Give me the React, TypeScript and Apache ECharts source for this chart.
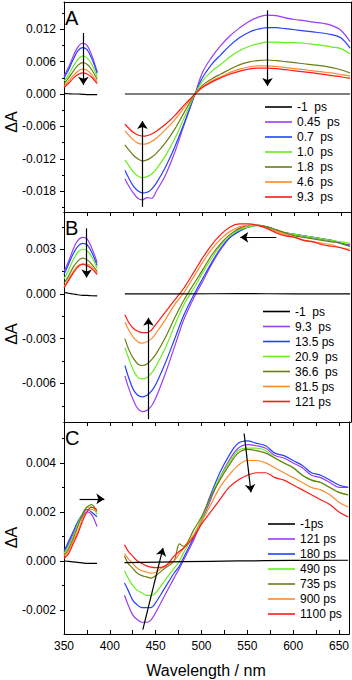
import React, { useEffect, useRef } from 'react';
import * as echarts from 'echarts';

// ---------- wavelength grids (nm) ----------
const WL_UV = [350, 355, 360, 365, 370, 375, 380, 386];
const WL_VIS = [416, 420, 425, 430, 435, 440, 445, 450, 460, 470, 480, 492, 500, 510, 520, 530, 540, 550, 560, 570, 580, 590, 600, 610, 620, 630, 640, 650, 660];
const WL_VIS_C = [416, 420, 425, 430, 435, 440, 445, 450, 460, 470, 476, 480, 492, 500, 510, 520, 530, 540, 550, 560, 570, 580, 590, 600, 610, 620, 630, 640, 650, 660];
const BLACK_WL_VIS = [416, 480, 540, 600, 660];

// ---------- legend labels ----------
const LABELS_A = ['-1  ps', '0.45  ps', '0.7  ps', '1.0  ps', '1.8  ps', '4.6  ps', '9.3  ps'];
const LABELS_B = ['-1  ps', '9.3  ps', '13.5 ps', '20.9  ps', '36.6  ps', '81.5 ps', '121 ps'];
const LABELS_C = ['-1ps', '121 ps', '180 ps', '490 ps', '735 ps', '900 ps', '1100 ps'];

const COLORS = ['#000000', '#9b3cf6', '#2442ff', '#66ee1e', '#6b7d14', '#ff8a2a', '#ff1a1a'];

// ---------- panel A ----------
const A_UV_BLACK = [0.0001, 0.00005, 0, 0, -0.00005, -0.0001, -0.0001, -0.0001];
const A_UV_PURPLE = [0.0033, 0.0050, 0.0070, 0.0087, 0.0094, 0.0090, 0.0072, 0.0041];
const A_UV_BLUE = [0.0030, 0.0045, 0.0064, 0.0080, 0.0086, 0.0082, 0.0066, 0.0038];
const A_UV_GREEN = [0.0024, 0.0036, 0.0051, 0.0064, 0.0070, 0.0067, 0.0055, 0.0032];
const A_UV_OLIVE = [0.0019, 0.0030, 0.0042, 0.0053, 0.0058, 0.0055, 0.0045, 0.0027];
const A_UV_ORANGE = [0.0015, 0.0024, 0.0034, 0.0042, 0.0046, 0.0044, 0.0036, 0.0022];
const A_UV_RED = [0.0012, 0.0020, 0.0029, 0.0036, 0.0039, 0.0037, 0.0031, 0.0019];

const A_VIS_BLACK = [0, 0, 0, 0, 0];
const A_VIS_PURPLE = [-0.0157, -0.0170, -0.0183, -0.0193, -0.0196, -0.0192, -0.0193, -0.0180, -0.0150, -0.0108, -0.0058, 0, 0.0040, 0.0068, 0.0090, 0.0108, 0.0122, 0.0134, 0.0142, 0.0146, 0.0145, 0.0141, 0.0138, 0.0136, 0.0133, 0.0131, 0.0127, 0.0118, 0.0097];
const A_VIS_BLUE = [-0.0141, -0.0155, -0.0170, -0.0179, -0.0183, -0.0182, -0.0176, -0.0165, -0.0135, -0.0098, -0.0055, 0, 0.0030, 0.0055, 0.0073, 0.0090, 0.0104, 0.0114, 0.0120, 0.0123, 0.0123, 0.0121, 0.0119, 0.0117, 0.0115, 0.0113, 0.0110, 0.0104, 0.0085];
const A_VIS_GREEN = [-0.0122, -0.0132, -0.0144, -0.0152, -0.0155, -0.0153, -0.0148, -0.0139, -0.0114, -0.0083, -0.0045, 0, 0.0024, 0.0042, 0.0055, 0.0069, 0.0080, 0.0088, 0.0093, 0.0096, 0.0096, 0.0095, 0.0095, 0.0094, 0.0092, 0.0090, 0.0087, 0.0084, 0.0074];
const A_VIS_OLIVE = [-0.0094, -0.0103, -0.0113, -0.0120, -0.0124, -0.0122, -0.0117, -0.0110, -0.0090, -0.0065, -0.0035, 0, 0.0016, 0.0028, 0.0037, 0.0046, 0.0054, 0.0059, 0.0062, 0.0063, 0.0062, 0.0060, 0.0058, 0.0056, 0.0054, 0.0052, 0.0049, 0.0045, 0.0039];
const A_VIS_ORANGE = [-0.0068, -0.0076, -0.0085, -0.0091, -0.0093, -0.0092, -0.0088, -0.0082, -0.0066, -0.0048, -0.0026, 0, 0.0013, 0.0024, 0.0032, 0.0040, 0.0046, 0.0050, 0.0052, 0.0052, 0.0051, 0.0049, 0.0047, 0.0045, 0.0043, 0.0041, 0.0039, 0.0036, 0.0033];
const A_VIS_RED = [-0.0056, -0.0063, -0.0071, -0.0076, -0.0078, -0.0077, -0.0074, -0.0069, -0.0056, -0.0040, -0.0021, 0, 0.0012, 0.0022, 0.0030, 0.0037, 0.0042, 0.0046, 0.0048, 0.0048, 0.0047, 0.0045, 0.0043, 0.0041, 0.0039, 0.0037, 0.0034, 0.0032, 0.0029];

// ---------- panel B ----------
const B_UV_BLACK = [0.0001, 0.00005, 0, -0.00005, -0.0001, -0.0001, -0.00012, -0.00013];
const B_UV_PURPLE = [0.0015, 0.0022, 0.0030, 0.0036, 0.0038, 0.0037, 0.0031, 0.0021];
const B_UV_BLUE = [0.0013, 0.0020, 0.0027, 0.0032, 0.0034, 0.0033, 0.0028, 0.0019];
const B_UV_GREEN = [0.0010, 0.0016, 0.0023, 0.0028, 0.0030, 0.0029, 0.0025, 0.0017];
const B_UV_OLIVE = [0.0007, 0.0012, 0.0018, 0.0022, 0.0024, 0.0023, 0.0020, 0.0015];
const B_UV_ORANGE = [0.0005, 0.0010, 0.0015, 0.0019, 0.0020, 0.0020, 0.0018, 0.0014];
const B_UV_RED = [0.0004, 0.0009, 0.0014, 0.0018, 0.0020, 0.0019, 0.0017, 0.0013];

const B_VIS_BLACK = [0, 0, 0.00003, 0, 0];
const B_VIS_PURPLE = [-0.0055, -0.0063, -0.0071, -0.0077, -0.0079, -0.0078, -0.0075, -0.0069, -0.0053, -0.0035, -0.0017, -0.0001, 0.0008, 0.0020, 0.0030, 0.0038, 0.0043, 0.0045, 0.0046, 0.0045, 0.0043, 0.0041, 0.0040, 0.0039, 0.0038, 0.0037, 0.0036, 0.0034, 0.0033];
const B_VIS_BLUE = [-0.0048, -0.0056, -0.0064, -0.0068, -0.0069, -0.0068, -0.0065, -0.0060, -0.0046, -0.0030, -0.0014, 0.0001, 0.0010, 0.0021, 0.0031, 0.0038, 0.0042, 0.0045, 0.0046, 0.0045, 0.0043, 0.0041, 0.0040, 0.0039, 0.0038, 0.0037, 0.0036, 0.0034, 0.0032];
const B_VIS_GREEN = [-0.0036, -0.0043, -0.0051, -0.0056, -0.0057, -0.0056, -0.0053, -0.0048, -0.0036, -0.0021, -0.0007, 0.0005, 0.0014, 0.0024, 0.0033, 0.0039, 0.0043, 0.0045, 0.0046, 0.0045, 0.0043, 0.0041, 0.0040, 0.0039, 0.0038, 0.0037, 0.0036, 0.0035, 0.0034];
const B_VIS_OLIVE = [-0.0030, -0.0037, -0.0043, -0.0047, -0.0048, -0.0047, -0.0044, -0.0040, -0.0029, -0.0016, -0.0004, 0.0008, 0.0016, 0.0026, 0.0034, 0.0040, 0.0044, 0.0046, 0.0046, 0.0045, 0.0043, 0.0041, 0.0039, 0.0038, 0.0037, 0.0036, 0.0035, 0.0034, 0.0032];
const B_VIS_ORANGE = [-0.0019, -0.0024, -0.0029, -0.0032, -0.0033, -0.0032, -0.0030, -0.0026, -0.0017, -0.0007, 0.0001, 0.0013, 0.0021, 0.0030, 0.0037, 0.0042, 0.0045, 0.0046, 0.0046, 0.0044, 0.0042, 0.0040, 0.0038, 0.0036, 0.0035, 0.0034, 0.0033, 0.0031, 0.0030];
const B_VIS_RED = [-0.0014, -0.0019, -0.0023, -0.0025, -0.0026, -0.0026, -0.0024, -0.0020, -0.0012, -0.0004, 0.0004, 0.0016, 0.0024, 0.0033, 0.0040, 0.0045, 0.0047, 0.0047, 0.0046, 0.0044, 0.0041, 0.0039, 0.0038, 0.0036, 0.0035, 0.0033, 0.0032, 0.0031, 0.0029];

// ---------- panel C ----------
const C_UV_BLACK = [0, -0.00002, -0.00004, -0.00006, -0.00008, -0.0001, -0.0001, -0.0001];
const C_UV_PURPLE = [0.0003, 0.0007, 0.0011, 0.0015, 0.0018, 0.0020, 0.0019, 0.0014];
const C_UV_BLUE = [0.0004, 0.0008, 0.0012, 0.0016, 0.0019, 0.0021, 0.0020, 0.0018];
const C_UV_GREEN = [0.0003, 0.0006, 0.0010, 0.0015, 0.0019, 0.0022, 0.0022, 0.0019];
const C_UV_OLIVE = [0.0002, 0.0005, 0.0009, 0.0014, 0.0019, 0.0022, 0.0023, 0.0020];
const C_UV_ORANGE = [0.0002, 0.0004, 0.0008, 0.0012, 0.0017, 0.0020, 0.0021, 0.0020];
const C_UV_RED = [0.0001, 0.0003, 0.0007, 0.0011, 0.0016, 0.0020, 0.0022, 0.0021];

const C_VIS_BLACK = [-0.00007, -0.00003, 0, 0.00002, 0.00003];
const C_VIS_PURPLE = [-0.0014, -0.0018, -0.0022, -0.0024, -0.0025, -0.0025, -0.0024, -0.0021, -0.0014, -0.0007, -0.0003, 0.0000, 0.0009, 0.0016, 0.0025, 0.0034, 0.0041, 0.0046, 0.00475, 0.0047, 0.0046, 0.0043, 0.0042, 0.0040, 0.0038, 0.0035, 0.0034, 0.0032, 0.0030, 0.0030];
const C_VIS_BLUE = [-0.0009, -0.0012, -0.0016, -0.0018, -0.0019, -0.0019, -0.0019, -0.0017, -0.0011, -0.0005, -0.0002, 0.0001, 0.0010, 0.0017, 0.0027, 0.0036, 0.0043, 0.0048, 0.0049, 0.0048, 0.0047, 0.0044, 0.0043, 0.0041, 0.0039, 0.0036, 0.0035, 0.0033, 0.0031, 0.0030];
const C_VIS_GREEN = [-0.0004, -0.0007, -0.0010, -0.0012, -0.0013, -0.0014, -0.0014, -0.0013, -0.0008, -0.0003, 0.0000, 0.0003, 0.0011, 0.0017, 0.0026, 0.0034, 0.0040, 0.0045, 0.0046, 0.0046, 0.0045, 0.0042, 0.0040, 0.0038, 0.0035, 0.0033, 0.0032, 0.0030, 0.0028, 0.0027];
const C_VIS_OLIVE = [0.0002, -0.0001, -0.0003, -0.0005, -0.0006, -0.00065, -0.0007, -0.0006, -0.0003, 0.0000, 0.0007, 0.0006, 0.0013, 0.0018, 0.0026, 0.0033, 0.0039, 0.0044, 0.00455, 0.0045, 0.0044, 0.0042, 0.0040, 0.0038, 0.0035, 0.0033, 0.0032, 0.0030, 0.0028, 0.0027];
const C_VIS_ORANGE = [0.0003, 0.0001, -0.0001, -0.0003, -0.0004, -0.00045, -0.0005, -0.00046, -0.0002, 0.0000, 0.0003, 0.0005, 0.0011, 0.0016, 0.0023, 0.0030, 0.0035, 0.0039, 0.0041, 0.0041, 0.0040, 0.0038, 0.0036, 0.0034, 0.0032, 0.0030, 0.0029, 0.0027, 0.0024, 0.0022];
const C_VIS_RED = [0.00066, 0.0004, 0.0002, 0.0000, -0.0001, -0.0002, -0.00025, -0.00027, -0.00022, 0.0002, 0.0004, 0.0005, 0.0010, 0.0015, 0.0020, 0.0025, 0.0030, 0.0033, 0.0035, 0.0036, 0.0036, 0.0034, 0.0033, 0.0031, 0.0029, 0.0027, 0.0025, 0.0023, 0.0020, 0.0018];

// ---------- axis ticks ----------
const X_LABELS = [350, 400, 450, 500, 550, 600, 650];
const X_TICKS = [350, 375, 400, 425, 450, 475, 500, 525, 550, 575, 600, 625, 650];
const A_Y_MAJOR = [-0.018, -0.012, -0.006, 0, 0.006, 0.012];
const A_Y_MINOR = [-0.021, -0.015, -0.009, -0.003, 0.003, 0.009, 0.015];
const B_Y_MAJOR = [-0.006, -0.003, 0, 0.003];
const B_Y_MINOR = [-0.0075, -0.0045, -0.0015, 0.0015, 0.0045];
const C_Y_MAJOR = [-0.002, 0, 0.002, 0.004];
const C_Y_MINOR = [-0.001, 0.001, 0.003, 0.005];

// ---------- arrows (data coordinates: nm, ΔA) ----------
const A_ARROWS = [[371, 0.0113, 371, 0.0017], [435, -0.0209, 435, -0.0050], [570.5, 0.0155, 570.5, 0.0015]];
const B_ARROWS = [[374.5, 0.0044, 374.5, 0.0011], [441.5, -0.0084, 441.5, -0.0016], [580, 0.0038, 541, 0.0038]];
const C_ARROWS = [[367, 0.00253, 394, 0.00253], [436, -0.0028, 458, 0.00053], [546.5, 0.0052, 554, 0.0028]];

const FONT = 'Liberation Sans, Arial, sans-serif';

function buildOption() {
  const panels = [
    {
      key: 'A', labels: LABELS_A, yMin: -0.02185, yMax: 0.01704, major: A_Y_MAJOR, minor: A_Y_MINOR,
      uv: [A_UV_BLACK, A_UV_PURPLE, A_UV_BLUE, A_UV_GREEN, A_UV_OLIVE, A_UV_ORANGE, A_UV_RED],
      vis: [A_VIS_BLACK, A_VIS_PURPLE, A_VIS_BLUE, A_VIS_GREEN, A_VIS_OLIVE, A_VIS_ORANGE, A_VIS_RED],
      visWl: WL_VIS, arrows: A_ARROWS, grid: { top: 2, height: 210 }, legend: { left: 265, top: 99.5 },
      letterY: 17.5, titleY: 122,
    },
    {
      key: 'B', labels: LABELS_B, yMin: -0.00859, yMax: 0.0055, major: B_Y_MAJOR, minor: B_Y_MINOR,
      uv: [B_UV_BLACK, B_UV_PURPLE, B_UV_BLUE, B_UV_GREEN, B_UV_OLIVE, B_UV_ORANGE, B_UV_RED],
      vis: [B_VIS_BLACK, B_VIS_PURPLE, B_VIS_BLUE, B_VIS_GREEN, B_VIS_OLIVE, B_VIS_ORANGE, B_VIS_RED],
      visWl: WL_VIS, arrows: B_ARROWS, grid: { top: 212, height: 210 }, legend: { left: 263, top: 304 },
      letterY: 227.5, titleY: 334,
    },
    {
      key: 'C', labels: LABELS_C, yMin: -0.00298, yMax: 0.00567, major: C_Y_MAJOR, minor: C_Y_MINOR,
      uv: [C_UV_BLACK, C_UV_PURPLE, C_UV_BLUE, C_UV_GREEN, C_UV_OLIVE, C_UV_ORANGE, C_UV_RED],
      vis: [C_VIS_BLACK, C_VIS_PURPLE, C_VIS_BLUE, C_VIS_GREEN, C_VIS_OLIVE, C_VIS_ORANGE, C_VIS_RED],
      visWl: WL_VIS_C, arrows: C_ARROWS, grid: { top: 422, height: 212 }, legend: { left: 268, top: 516.5 },
      letterY: 437.5, titleY: 537.5,
    },
  ];

  const grid: any[] = [];
  const xAxis: any[] = [];
  const yAxis: any[] = [];
  const series: any[] = [];
  const legend: any[] = [];
  const graphic: any[] = [];
  const axisLineStyle = { color: '#000', width: 1 };

  panels.forEach((p, pi) => {
    grid.push({ left: 64, right: 1, top: p.grid.top, height: p.grid.height, containLabel: false });
    const last = pi === panels.length - 1;
    xAxis.push({
      type: 'value', gridIndex: pi, position: 'bottom', min: 350, max: 661,
      axisLine: { show: true, onZero: false, lineStyle: axisLineStyle },
      axisTick: { show: last, inside: true, length: 4, customValues: X_TICKS, lineStyle: axisLineStyle },
      axisLabel: { show: last, customValues: X_LABELS, fontSize: 12, color: '#000', fontFamily: FONT, margin: 6 },
      splitLine: { show: false },
    });
    xAxis.push({
      type: 'value', gridIndex: pi, position: 'top', min: 350, max: 661,
      axisLine: { show: true, onZero: false, lineStyle: axisLineStyle },
      axisTick: { show: pi > 0, inside: true, length: 4, customValues: X_TICKS, lineStyle: axisLineStyle },
      axisLabel: { show: false },
      splitLine: { show: false },
    });
    yAxis.push({
      type: 'value', gridIndex: pi, position: 'left', min: p.yMin, max: p.yMax,
      axisLine: { show: true, onZero: false, lineStyle: axisLineStyle },
      axisTick: { show: true, inside: false, length: 4, customValues: p.major, lineStyle: axisLineStyle },
      axisLabel: {
        customValues: p.major, fontSize: 12, color: '#000', fontFamily: FONT, margin: 8,
        formatter: (v: number) => (Math.abs(v) < 1e-9 ? 0 : v).toFixed(3),
      },
      splitLine: { show: false },
    });
    yAxis.push({
      type: 'value', gridIndex: pi, position: 'left', min: p.yMin, max: p.yMax,
      axisLine: { show: false },
      axisTick: { show: true, inside: false, length: 2, customValues: p.minor, lineStyle: axisLineStyle },
      axisLabel: { show: false },
      splitLine: { show: false },
    });
    yAxis.push({
      type: 'value', gridIndex: pi, position: 'right', min: p.yMin, max: p.yMax,
      axisLine: { show: true, onZero: false, lineStyle: axisLineStyle },
      axisTick: { show: false }, axisLabel: { show: false }, splitLine: { show: false },
    });

    const names = p.labels.map((l) => p.key + '|' + l);
    p.labels.forEach((_, i) => {
      const common = {
        type: 'line', name: names[i], xAxisIndex: pi * 2, yAxisIndex: pi * 3,
        symbol: 'none', smooth: 0.35, silent: true,
        lineStyle: { color: COLORS[i], width: 1.2 }, itemStyle: { color: COLORS[i] },
        z: i === 0 ? 3 : 2,
      };
      series.push({ ...common, data: WL_UV.map((x, j) => [x, p.uv[i][j]]) });
      const wl = i === 0 ? BLACK_WL_VIS : p.visWl;
      const s: any = { ...common, data: wl.map((x, j) => [x, p.vis[i][j]]) };
      if (i === 0) {
        s.markLine = {
          silent: true, symbol: ['none', 'arrow'], symbolSize: 8, label: { show: false },
          lineStyle: { color: '#000', width: 1.2, type: 'solid' },
          emphasis: { disabled: true },
          data: p.arrows.map((a) => [{ coord: [a[0], a[1]] }, { coord: [a[2], a[3]] }]),
        };
      }
      series.push(s);
    });

    legend.push({
      data: names.map((n, i) => ({ name: n, icon: 'rect', itemStyle: { color: COLORS[i] } })),
      formatter: (n: string) => n.split('|')[1], orient: 'vertical',
      left: p.legend.left, top: p.legend.top, padding: 0, itemGap: 0, itemWidth: 27, itemHeight: 1.6,
      selectedMode: false, textStyle: { fontSize: 12, lineHeight: 15, color: '#000', fontFamily: FONT },
    });

    graphic.push({
      type: 'text', x: 65, y: p.letterY,
      style: { text: p.key, fontSize: 20, fill: '#000', fontFamily: FONT, textAlign: 'left', textVerticalAlign: 'middle', align: 'left', verticalAlign: 'middle' },
    });
    graphic.push({
      type: 'text', x: 11, y: p.titleY, rotation: Math.PI / 2,
      style: { text: 'ΔA', fontSize: 16, fill: '#000', fontFamily: FONT, textAlign: 'center', textVerticalAlign: 'middle', align: 'center', verticalAlign: 'middle' },
    });
  });

  graphic.push({
    type: 'text', x: 206, y: 670,
    style: { text: 'Wavelength / nm', fontSize: 16, fill: '#000', fontFamily: FONT, textAlign: 'center', textVerticalAlign: 'middle', align: 'center', verticalAlign: 'middle' },
  });

  return {
    animation: false,
    backgroundColor: '#fff',
    textStyle: { fontFamily: FONT },
    grid, xAxis, yAxis, series, legend, graphic,
  };
}

export default function App() {
  const ref = useRef<HTMLDivElement>(null);
  useEffect(() => {
    const chart = echarts.init(ref.current!, null, { renderer: 'svg' });
    chart.setOption(buildOption() as any);
    return () => chart.dispose();
  }, []);
  return <div ref={ref} style={{ position: 'fixed', left: 0, top: 0, width: 352, height: 680 }} />;
}
